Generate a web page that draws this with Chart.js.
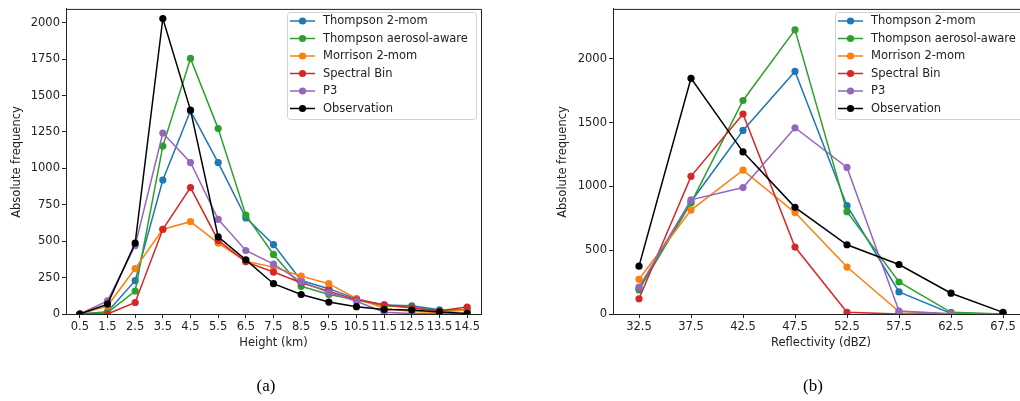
<!DOCTYPE html>
<html>
<head>
<meta charset="utf-8">
<script src="https://cdn.jsdelivr.net/npm/chart.js@4.4.1/dist/chart.umd.min.js"></script>
<style>
  html, body { margin: 0; padding: 0; background: #fff; overflow: hidden; width: 1020px; height: 401px; }
  #chartA { position: absolute; left: 0; top: 0; }
  #chartB { position: absolute; left: 520px; top: 0; }
</style>
</head>
<body>
<canvas id="chartA" width="520" height="401"></canvas>
<canvas id="chartB" width="520" height="401"></canvas>
<script>
// categories / ticks
const heightLabels = ['0.5','1.5','2.5','3.5','4.5','5.5','6.5','7.5','8.5','9.5','10.5','11.5','12.5','13.5','14.5'];
const reflLabels = ['32.5','37.5','42.5','47.5','52.5','57.5','62.5','67.5'];
const yTicksA = [0, 250, 500, 750, 1000, 1250, 1500, 1750, 2000];
const yTicksB = [0, 500, 1000, 1500, 2000];
const seriesNames = ['Thompson 2-mom', 'Thompson aerosol-aware', 'Morrison 2-mom', 'Spectral Bin', 'P3', 'Observation'];

// (a) height
const thompsonA = [0, 15, 229, 920, 1395, 1040, 660, 477, 230, 174, 104, 61, 56, 29, 25];
const aerosolA  = [0, 10, 158, 1153, 1755, 1273, 679, 409, 190, 134, 97, 56, 46, 21, 31];
const morrisonA = [0, 55, 312, 582, 634, 487, 362, 322, 260, 208, 106, 40, 18, 10, 30];
const spectralA = [0, 0, 79, 582, 868, 505, 358, 288, 215, 156, 97, 63, 42, 22, 48];
const p3A       = [0, 90, 470, 1243, 1040, 650, 436, 342, 222, 147, 88, 12, 3, 2, 3];
const obsA      = [0, 68, 487, 2029, 1400, 530, 372, 208, 134, 82, 50, 31, 27, 14, 4];

// (b) reflectivity
const thompsonB = [200, 880, 1439, 1902, 849, 173, 5, 0];
const aerosolB  = [189, 870, 1674, 2228, 802, 251, 13, 0];
const morrisonB = [272, 815, 1128, 795, 368, 20, 0, 0];
const spectralB = [119, 1079, 1568, 525, 13, 0, 0, 0];
const p3B       = [210, 895, 991, 1460, 1149, 23, 2, 0];
const obsB      = [375, 1848, 1271, 836, 543, 388, 163, 13];

const colors = ['#1f77b4', '#2ca02c', '#ff7f0e', '#d62728', '#9467bd', '#000000'];
const FONT = 'DejaVu Sans';
const FS = 11.5;

function makeDatasets(arrs) {
  return arrs.map((d, i) => ({
    label: seriesNames[i],
    data: d,
    borderColor: colors[i],
    backgroundColor: colors[i],
    pointBackgroundColor: colors[i],
    pointBorderWidth: 0,
    pointRadius: 3.6,
    borderWidth: 1.5,
    tension: 0,
    fill: false,
    order: arrs.length - i
  }));
}

// matplotlib-ish frame, legend, labels
const decor = {
  id: 'decor',
  afterDraw(chart, args, o) {
    const ctx = chart.ctx;
    const a = chart.chartArea;
    ctx.save();
    // top / right spines
    ctx.strokeStyle = '#222';
    ctx.lineWidth = 1;
    ctx.beginPath();
    ctx.moveTo(a.left, a.top + 0.5);
    ctx.lineTo(a.right + 0.5, a.top + 0.5);
    ctx.lineTo(a.right + 0.5, a.bottom);
    ctx.stroke();

    // legend
    const lx = o.legendX, ly = 12, lw = 189, lh = 107;
    ctx.fillStyle = 'rgba(255,255,255,0.85)';
    ctx.strokeStyle = '#d0d0d0';
    ctx.beginPath();
    ctx.roundRect(lx + 0.5, ly + 0.5, lw, lh, 3);
    ctx.fill();
    ctx.stroke();
    ctx.font = FS + 'px "' + FONT + '"';
    ctx.textBaseline = 'middle';
    ctx.textAlign = 'left';
    chart.data.datasets.forEach((ds, i) => {
      const cy = 21 + i * 17.5;
      ctx.strokeStyle = ds.borderColor;
      ctx.lineWidth = 1.5;
      ctx.beginPath();
      ctx.moveTo(lx + 3, cy);
      ctx.lineTo(lx + 28, cy);
      ctx.stroke();
      ctx.fillStyle = ds.borderColor;
      ctx.beginPath();
      ctx.arc(lx + 15.5, cy, 3.6, 0, Math.PI * 2);
      ctx.fill();
      ctx.fillStyle = '#222';
      ctx.fillText(ds.label, lx + 36, cy + 0.5);
    });

    // axis titles
    ctx.fillStyle = '#222';
    ctx.textAlign = 'center';
    ctx.fillText(o.xTitle, (a.left + a.right) / 2, 343);
    ctx.save();
    ctx.translate(o.yTitleX, 162);
    ctx.rotate(-Math.PI / 2);
    ctx.fillText('Absolute frequency', 0, 0);
    ctx.restore();

    // caption
    ctx.font = '17px "Liberation Serif"';
    ctx.fillStyle = '#000';
    ctx.fillText(o.caption, o.captionX, 387);
    ctx.restore();
  }
};

function makeConfig(labels, arrs, yMax, yTicks, yWidth, padRight, dec) {
  return {
    type: 'line',
    data: { labels: labels, datasets: makeDatasets(arrs) },
    plugins: [decor],
    options: {
      responsive: false,
      animation: false,
      layout: { padding: { top: 6, right: padRight, bottom: 0, left: 0 } },
      plugins: {
        legend: { display: false },
        tooltip: { enabled: false },
        decor: dec
      },
      scales: {
        x: {
          type: 'category',
          offset: true,
          grid: { display: true, drawOnChartArea: false, drawTicks: true, tickLength: 4, color: '#222', offset: false },
          border: { display: true, color: '#222', width: 1 },
          ticks: { color: '#222', font: { family: FONT, size: FS }, padding: 2, maxRotation: 0, autoSkip: false },
          afterFit(s) { s.height = 87; }
        },
        y: {
          min: 0,
          max: yMax,
          afterBuildTicks(s) { s.ticks = yTicks.map(v => ({ value: v })); },
          grid: { display: true, drawOnChartArea: false, drawTicks: true, tickLength: 4, color: '#222' },
          border: { display: true, color: '#222', width: 1 },
          ticks: { color: '#222', font: { family: FONT, size: FS }, padding: 2, callback: v => String(v) },
          afterFit(s) { s.width = yWidth; }
        }
      }
    }
  };
}

new Chart(document.getElementById('chartA'),
  makeConfig(heightLabels, [thompsonA, aerosolA, morrisonA, spectralA, p3A, obsA], 2095, yTicksA, 66, 39,
    { legendX: 287, xTitle: 'Height (km)', yTitleX: 17, caption: '(a)', captionX: 266 }));

new Chart(document.getElementById('chartB'),
  makeConfig(reflLabels, [thompsonB, aerosolB, morrisonB, spectralB, p3B, obsB], 2392, yTicksB, 93, 11,
    { legendX: 315, xTitle: 'Reflectivity (dBZ)', yTitleX: 43, caption: '(b)', captionX: 293 }));
</script>
</body>
</html>
